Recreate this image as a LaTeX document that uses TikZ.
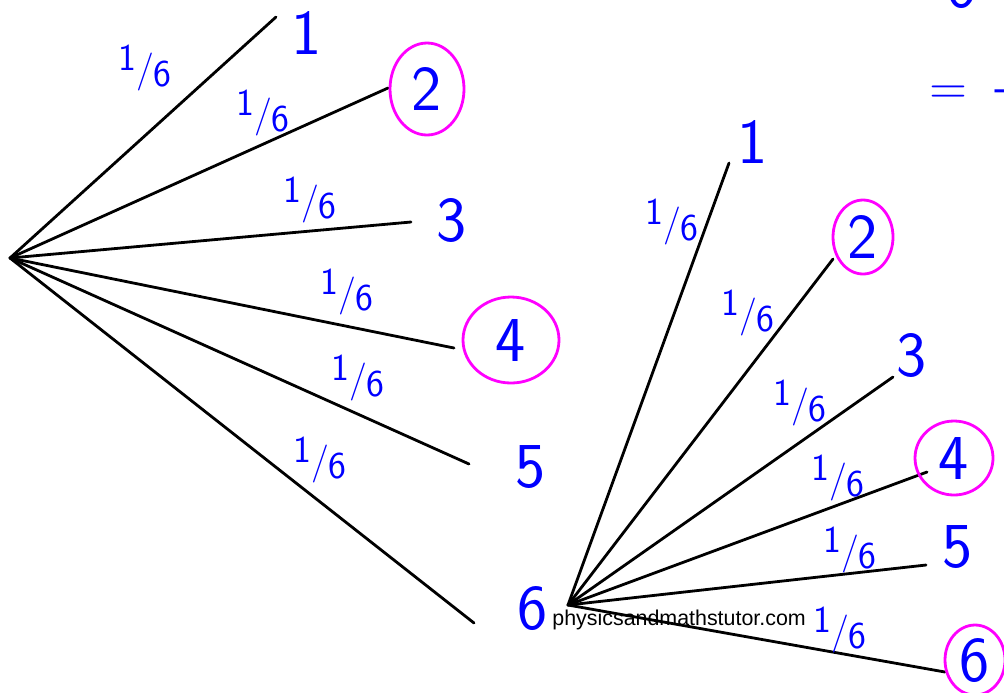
\documentclass[tikz,border=0pt]{standalone}
\usepackage{fontspec}
\newfontfamily\wmfont{Liberation Sans}
\usetikzlibrary{shapes.geometric, positioning}

\definecolor{inkblue}{RGB}{0,0,255}
\definecolor{inkpink}{RGB}{255,0,255}

% hand-written one sixth
\newcommand{\sixth}{\raisebox{0.3em}{1}/\raisebox{-0.12em}{6}}

\begin{document}
\begin{tikzpicture}[x=0.5pt, y=-0.5pt,
    branch/.style={line width=1.4pt, line cap=round},
    outcome/.style={text=inkblue, font=\sffamily\fontsize{32}{32}\selectfont, inner sep=0pt, ellipse, line width=1.4pt},
    prob/.style={text=inkblue, font=\sffamily\fontsize{19}{19}\selectfont, inner sep=0pt}]

\useasboundingbox (0,0) rectangle (1004,692);
\clip (0,0) rectangle (1004,692);

% First roll
% n / branch end / label / prob label / ring colour, width, height
\coordinate (A) at (10,258);
\foreach \n/\ex/\ey/\lx/\ly/\px/\py/\rc/\rw/\rh in {
    1/276/17/307/33/145/68/none/0/0,
    2/388/88/427/89/263/113/inkpink/37/46,
    3/411/222/452/220/310/200/none/0/0,
    4/454/348/511/340/347/292/inkpink/48/43,
    5/469/464/531/467/358/378/none/0/0,
    6/474/623/533/608/320/460/none/0/0}
{
    \coordinate (A\n) at (\ex,\ey);
    \draw[branch] (A) -- (A\n);
    \node[outcome, draw=\rc, minimum width=\rw pt, minimum height=\rh pt] (a\n) at (\lx,\ly) {\n};
    \node[prob] (pa\n) at (\px,\py) {\sixth};
}

% Second roll, hanging off the 6
\coordinate (B) at (568,605);
\foreach \n/\ex/\ey/\lx/\ly/\px/\py/\rc/\rw/\rh in {
    1/729/163/753/142/672/222/none/0/0,
    2/833/259/863/237/748/313/inkpink/30/37,
    3/893/377/912/355/800/403/none/0/0,
    4/927/472/954/458/838/478/inkpink/39/37,
    5/926/565/958/547/850/550/none/0/0,
    6/945/672/975/660/840/630/inkpink/30/35}
{
    \coordinate (B\n) at (\ex,\ey);
    \draw[branch] (B) -- (B\n);
    \node[outcome, draw=\rc, minimum width=\rw pt, minimum height=\rh pt] (b\n) at (\lx,\ly) {\n};
    \node[prob] (pb\n) at (\px,\py) {\sixth};
}

% Cut-off working at the top right
\node[outcome] (top6) at (962,-13) {6};
\node[outcome, font=\sffamily\fontsize{26}{26}\selectfont] (eq) at (948,95) {=};
\node[outcome, font=\sffamily\fontsize{26}{26}\selectfont, anchor=west] (bar) at (990,96) {-};

% Watermark
\node[font=\wmfont\fontsize{10.7}{12}\selectfont, anchor=west, inner sep=0pt] (wm) at (552,620) {physicsandmathstutor.com};

\end{tikzpicture}
\end{document}
